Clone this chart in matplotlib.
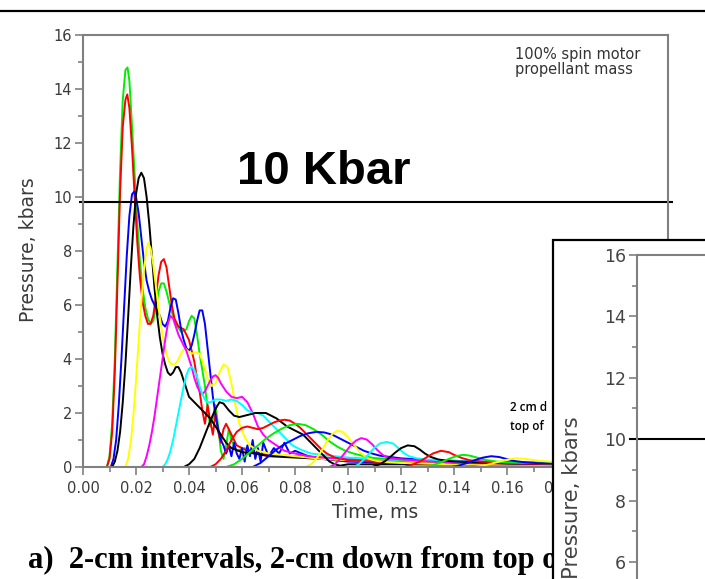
import matplotlib
matplotlib.use("Agg")
import matplotlib.pyplot as plt
from matplotlib.patches import Rectangle
from matplotlib.lines import Line2D
from matplotlib.ticker import MultipleLocator
import matplotlib.transforms as mtransforms

# gauge traces: (time in ms, pressure in kbar)
g01 = [(0, 0), (0.009, 0), (0.010, 0.4), (0.011, 1.6), (0.012, 4.0), (0.013, 7.5), (0.014, 11.0),
       (0.015, 13.6), (0.016, 14.7), (0.0168, 14.8), (0.0175, 14.3), (0.0185, 12.6), (0.0195, 10.8),
       (0.0205, 9.0), (0.0215, 7.6), (0.0225, 6.6), (0.0235, 5.9), (0.0245, 5.5), (0.0255, 5.3),
       (0.0265, 5.4), (0.0275, 5.9), (0.0285, 6.5), (0.0295, 6.8), (0.0305, 6.8), (0.0315, 6.5),
       (0.033, 5.9), (0.035, 5.3), (0.037, 5.0), (0.039, 5.1), (0.040, 5.4), (0.041, 5.6), (0.042, 5.5),
       (0.043, 4.9), (0.044, 4.2), (0.045, 3.6), (0.046, 3.0), (0.047, 2.2), (0.048, 1.5), (0.049, 1.8),
       (0.050, 2.3), (0.051, 1.5), (0.052, 0.6), (0.053, 0.3), (0.054, 0.8), (0.055, 1.4), (0.056, 1.0),
       (0.058, 0.6), (0.061, 0.7), (0.065, 0.5), (0.070, 0.45), (0.080, 0.4), (0.090, 0.35), (0.10, 0.3),
       (0.12, 0.2), (0.15, 0.15), (0.22, 0.1)]
g02 = [(0, 0), (0.009, 0), (0.010, 0.3), (0.011, 1.3), (0.012, 3.5), (0.013, 6.8), (0.014, 10.2),
       (0.015, 12.6), (0.016, 13.6), (0.0167, 13.8), (0.0175, 13.3), (0.0185, 11.8), (0.0195, 10.0),
       (0.0205, 8.3), (0.0215, 7.0), (0.0225, 6.1), (0.0235, 5.6), (0.0245, 5.3), (0.0255, 5.3),
       (0.0265, 5.6), (0.0275, 6.3), (0.0285, 7.1), (0.0295, 7.6), (0.0305, 7.7), (0.0315, 7.4),
       (0.0325, 6.7), (0.0335, 6.0), (0.0345, 5.5), (0.036, 5.2), (0.038, 5.1), (0.040, 4.7), (0.042, 3.9),
       (0.043, 3.3), (0.044, 2.8), (0.045, 2.1), (0.046, 1.6), (0.047, 2.3), (0.048, 1.7), (0.049, 1.2),
       (0.050, 2.0), (0.051, 1.3), (0.052, 0.9), (0.053, 1.4), (0.054, 1.6), (0.056, 1.2), (0.058, 0.8),
       (0.062, 0.6), (0.066, 0.5), (0.07, 0.45), (0.08, 0.4), (0.10, 0.3), (0.13, 0.2), (0.22, 0.1)]
g03 = [(0, 0), (0.0105, 0), (0.0115, 0.3), (0.0125, 1.0), (0.0135, 2.3), (0.0145, 4.0), (0.0155, 5.9),
       (0.0165, 7.8), (0.0175, 9.3), (0.0185, 10.1), (0.0193, 10.2), (0.020, 10.0), (0.021, 9.4),
       (0.022, 8.5), (0.023, 7.6), (0.024, 6.9), (0.025, 6.5), (0.026, 6.2), (0.027, 6.0), (0.028, 5.8),
       (0.029, 5.6), (0.030, 5.3), (0.031, 5.2), (0.032, 5.4), (0.033, 5.9), (0.034, 6.25), (0.035, 6.2),
       (0.036, 5.7), (0.037, 5.1), (0.038, 4.7), (0.039, 4.4), (0.040, 4.3), (0.041, 4.5), (0.042, 4.9),
       (0.043, 5.4), (0.044, 5.8), (0.045, 5.8), (0.046, 5.3), (0.047, 4.4), (0.048, 3.5), (0.049, 2.6),
       (0.050, 1.9), (0.051, 1.4), (0.052, 1.0), (0.053, 0.8), (0.054, 0.5), (0.055, 0.8), (0.056, 0.4),
       (0.057, 0.9), (0.058, 0.5), (0.059, 0.3), (0.060, 0.7), (0.061, 0.2), (0.062, 0.8), (0.063, 0.4),
       (0.064, 1.0), (0.065, 0.3), (0.066, 0.7), (0.067, 0.2), (0.068, 0.9), (0.070, 0.4), (0.072, 0.7),
       (0.074, 0.5), (0.076, 0.9), (0.078, 0.5), (0.080, 0.6), (0.085, 0.4), (0.09, 0.3), (0.10, 0.2),
       (0.12, 0.15), (0.22, 0.1)]
g04 = [(0, 0), (0.011, 0), (0.012, 0.2), (0.013, 0.6), (0.014, 1.3), (0.015, 2.4), (0.016, 3.8),
       (0.017, 5.5), (0.018, 7.3), (0.019, 8.9), (0.020, 10.1), (0.021, 10.7), (0.022, 10.9), (0.023, 10.7),
       (0.024, 10.0), (0.025, 9.0), (0.026, 7.8), (0.027, 6.6), (0.028, 5.6), (0.029, 4.8), (0.030, 4.2),
       (0.031, 3.8), (0.032, 3.5), (0.033, 3.4), (0.034, 3.5), (0.035, 3.7), (0.036, 3.7), (0.037, 3.5),
       (0.038, 3.2), (0.039, 2.9), (0.040, 2.6), (0.042, 2.4), (0.044, 2.2), (0.046, 2.0), (0.048, 1.8),
       (0.050, 1.5), (0.052, 1.2), (0.054, 0.9), (0.056, 0.7), (0.06, 0.55), (0.065, 0.5), (0.07, 0.4),
       (0.08, 0.35), (0.1, 0.25), (0.13, 0.15), (0.22, 0.1)]
g05 = [(0, 0), (0.016, 0), (0.017, 0.3), (0.018, 0.9), (0.019, 1.9), (0.020, 3.2), (0.021, 4.7),
       (0.022, 6.1), (0.023, 7.3), (0.024, 8.1), (0.0247, 8.3), (0.0255, 8.1), (0.0265, 7.5), (0.0275, 6.7),
       (0.0285, 5.9), (0.0295, 5.2), (0.0305, 4.6), (0.0315, 4.2), (0.0325, 3.9), (0.0335, 3.8),
       (0.0345, 3.8), (0.0355, 3.9), (0.0365, 4.1), (0.0375, 4.3), (0.0385, 4.4), (0.0395, 4.3),
       (0.041, 4.2), (0.0425, 4.25), (0.044, 4.2), (0.0455, 3.8), (0.047, 3.3), (0.0485, 3.0), (0.050, 3.1),
       (0.0515, 3.5), (0.053, 3.8), (0.0545, 3.7), (0.056, 3.1), (0.0575, 2.3), (0.059, 1.6), (0.061, 1.1),
       (0.063, 0.8), (0.066, 0.6), (0.07, 0.5), (0.08, 0.4), (0.09, 0.3), (0.1, 0.25), (0.13, 0.15),
       (0.22, 0.1)]
g06 = [(0, 0), (0.022, 0), (0.023, 0.1), (0.024, 0.4), (0.025, 0.8), (0.026, 1.3), (0.027, 1.9),
       (0.028, 2.6), (0.029, 3.3), (0.030, 4.0), (0.031, 4.7), (0.032, 5.3), (0.033, 5.6), (0.034, 5.5),
       (0.035, 5.2), (0.036, 4.9), (0.037, 4.7), (0.038, 4.5), (0.039, 4.3), (0.040, 4.0), (0.041, 3.7),
       (0.042, 3.3), (0.043, 3.0), (0.044, 2.8), (0.045, 2.7), (0.046, 2.8), (0.047, 3.0), (0.048, 3.2),
       (0.049, 3.35), (0.050, 3.4), (0.051, 3.3), (0.052, 3.1), (0.054, 2.8), (0.056, 2.6), (0.058, 2.55),
       (0.060, 2.6), (0.062, 2.4), (0.064, 2.0), (0.066, 1.5), (0.068, 1.2), (0.070, 1.0), (0.073, 0.8),
       (0.076, 0.6), (0.08, 0.5), (0.085, 0.4), (0.09, 0.35), (0.1, 0.3), (0.13, 0.2), (0.22, 0.1)]
g07 = [(0, 0), (0.030, 0), (0.031, 0.1), (0.032, 0.3), (0.033, 0.6), (0.034, 1.0), (0.035, 1.5),
       (0.036, 2.0), (0.037, 2.5), (0.038, 3.0), (0.039, 3.4), (0.040, 3.65), (0.041, 3.7), (0.042, 3.6),
       (0.043, 3.35), (0.044, 3.0), (0.045, 2.7), (0.046, 2.5), (0.047, 2.4), (0.048, 2.4), (0.050, 2.5),
       (0.052, 2.5), (0.054, 2.45), (0.056, 2.5), (0.058, 2.45), (0.060, 2.3), (0.062, 2.1), (0.064, 2.0),
       (0.066, 2.0), (0.068, 1.9), (0.070, 1.7), (0.073, 1.4), (0.076, 1.1), (0.079, 0.8), (0.082, 0.65),
       (0.086, 0.5), (0.09, 0.45), (0.1, 0.35), (0.13, 0.2), (0.22, 0.1)]
g08 = [(0, 0), (0.038, 0), (0.040, 0.1), (0.042, 0.3), (0.044, 0.7), (0.046, 1.2), (0.048, 1.7),
       (0.050, 2.15), (0.0515, 2.4), (0.053, 2.35), (0.055, 2.1), (0.057, 1.9), (0.059, 1.85), (0.061, 1.9),
       (0.063, 1.95), (0.065, 2.0), (0.067, 2.0), (0.069, 2.0), (0.071, 1.9), (0.073, 1.8), (0.075, 1.65),
       (0.077, 1.5), (0.079, 1.4), (0.081, 1.3), (0.083, 1.2), (0.085, 1.0), (0.087, 0.8), (0.089, 0.6),
       (0.091, 0.4), (0.093, 0.2), (0.095, 0.1), (0.097, 0.05), (0.10, 0.1), (0.12, 0.1), (0.22, 0.05)]
g09 = [(0, 0), (0.048, 0), (0.050, 0.1), (0.052, 0.3), (0.054, 0.6), (0.056, 1.0), (0.058, 1.3),
       (0.060, 1.45), (0.062, 1.5), (0.064, 1.45), (0.066, 1.4), (0.068, 1.45), (0.070, 1.55), (0.072, 1.65),
       (0.074, 1.72), (0.076, 1.75), (0.078, 1.72), (0.080, 1.6), (0.082, 1.45), (0.084, 1.25), (0.086, 1.05),
       (0.088, 0.85), (0.090, 0.65), (0.092, 0.5), (0.095, 0.35), (0.10, 0.25), (0.12, 0.15), (0.22, 0.05)]
g10 = [(0, 0), (0.054, 0), (0.057, 0.1), (0.060, 0.3), (0.063, 0.55), (0.066, 0.8), (0.069, 1.05),
       (0.072, 1.25), (0.075, 1.42), (0.078, 1.55), (0.081, 1.6), (0.084, 1.55), (0.087, 1.4), (0.090, 1.2),
       (0.093, 0.95), (0.096, 0.75), (0.099, 0.6), (0.102, 0.5), (0.106, 0.4), (0.11, 0.33), (0.12, 0.27),
       (0.14, 0.2), (0.22, 0.05)]
g11 = [(0, 0), (0.064, 0), (0.067, 0.15), (0.070, 0.4), (0.073, 0.65), (0.076, 0.85), (0.079, 1.0),
       (0.082, 1.15), (0.085, 1.25), (0.088, 1.3), (0.091, 1.28), (0.094, 1.2), (0.097, 1.05), (0.100, 0.9),
       (0.103, 0.75), (0.106, 0.6), (0.109, 0.5), (0.112, 0.42), (0.12, 0.32), (0.13, 0.26), (0.15, 0.2),
       (0.22, 0.05)]
g12 = [(0, 0), (0.084, 0), (0.086, 0.1), (0.088, 0.3), (0.090, 0.6), (0.092, 0.95), (0.094, 1.22),
       (0.096, 1.35), (0.098, 1.3), (0.100, 1.1), (0.102, 0.85), (0.104, 0.6), (0.106, 0.42), (0.108, 0.3),
       (0.111, 0.22), (0.115, 0.18), (0.12, 0.15), (0.14, 0.1), (0.22, 0.05)]
g13 = [(0, 0), (0.093, 0), (0.095, 0.1), (0.097, 0.3), (0.099, 0.55), (0.101, 0.8), (0.103, 0.98),
       (0.105, 1.07), (0.107, 1.02), (0.109, 0.85), (0.111, 0.63), (0.113, 0.45), (0.115, 0.35),
       (0.118, 0.3), (0.122, 0.27), (0.13, 0.22), (0.14, 0.15), (0.22, 0.05)]
g14 = [(0, 0), (0.102, 0), (0.104, 0.1), (0.106, 0.28), (0.108, 0.5), (0.110, 0.72), (0.112, 0.87),
       (0.1145, 0.93), (0.117, 0.87), (0.119, 0.7), (0.121, 0.52), (0.123, 0.4), (0.126, 0.32),
       (0.13, 0.28), (0.14, 0.22), (0.16, 0.15), (0.22, 0.05)]
g15 = [(0, 0), (0.109, 0), (0.112, 0.1), (0.114, 0.22), (0.116, 0.38), (0.118, 0.55), (0.120, 0.7),
       (0.1225, 0.8), (0.125, 0.77), (0.127, 0.65), (0.129, 0.5), (0.131, 0.38), (0.134, 0.28),
       (0.138, 0.22), (0.145, 0.18), (0.16, 0.13), (0.18, 0.1), (0.22, 0.05)]
g16 = [(0, 0), (0.121, 0), (0.124, 0.08), (0.127, 0.2), (0.130, 0.38), (0.132, 0.5), (0.135, 0.6),
       (0.138, 0.55), (0.140, 0.45), (0.143, 0.33), (0.146, 0.25), (0.15, 0.2), (0.16, 0.15),
       (0.18, 0.1), (0.22, 0.05)]
g17 = [(0, 0), (0.129, 0), (0.132, 0.07), (0.135, 0.17), (0.138, 0.3), (0.141, 0.41), (0.1435, 0.45),
       (0.146, 0.42), (0.149, 0.34), (0.152, 0.26), (0.156, 0.2), (0.16, 0.17), (0.17, 0.15),
       (0.19, 0.1), (0.22, 0.05)]
g18 = [(0, 0), (0.139, 0), (0.142, 0.06), (0.145, 0.15), (0.148, 0.26), (0.151, 0.35), (0.154, 0.4),
       (0.157, 0.37), (0.160, 0.29), (0.163, 0.22), (0.167, 0.17), (0.172, 0.14), (0.18, 0.12),
       (0.22, 0.05)]
g19 = [(0, 0), (0.148, 0), (0.151, 0.05), (0.154, 0.12), (0.157, 0.2), (0.160, 0.27), (0.163, 0.32),
       (0.166, 0.31), (0.169, 0.27), (0.172, 0.23), (0.176, 0.2), (0.18, 0.18), (0.19, 0.15),
       (0.22, 0.08)]

gauges = [g01, g02, g03, g04, g05, g06, g07, g08, g09, g10,
          g11, g12, g13, g14, g15, g16, g17, g18, g19]
colours = ["#00ee00", "#ff0000", "#0000ff", "#000000", "#ffff00", "#ff00ff", "#00ffff",
           "#000000", "#ff0000", "#00ee00", "#0000ff", "#ffff00", "#ff00ff", "#00ffff",
           "#000000", "#ff0000", "#00ee00", "#0000ff", "#ffff00"]

W, H = 705, 579
fig = plt.figure(figsize=(W / 100, H / 100), dpi=100)

# main chart
ax = fig.add_axes([83 / W, 1 - 467 / H, (668 - 83) / W, (467 - 35) / H])
for g, c in zip(gauges, colours):
    t, p = zip(*g)
    ax.plot(t, p, color=c, lw=1.4, solid_joinstyle="round")

ax.set_xlim(0, 0.2207)
ax.set_ylim(0, 16)
ax.xaxis.set_major_locator(MultipleLocator(0.02))
ax.xaxis.set_minor_locator(MultipleLocator(0.01))
ax.yaxis.set_major_locator(MultipleLocator(2))
ax.yaxis.set_minor_locator(MultipleLocator(1))
ax.xaxis.set_major_formatter(lambda v, pos: f"{v:.2f}")
ax.tick_params(which="both", direction="out", color="#808080", width=1.2,
               labelcolor="#3a3a3a", labelsize=10.5)
ax.tick_params(axis="x", pad=4)
ax.tick_params(axis="y", pad=2)
ax.tick_params(which="major", length=6)
ax.tick_params(which="minor", length=3.5)
for s in ax.spines.values():
    s.set_color("#808080")
    s.set_linewidth(1.5)

ax.axhline(9.8, xmin=-0.005, xmax=1.007, color="black", lw=1.5, clip_on=False)
ax.text(0.058, 10.5, "10 Kbar", fontfamily="Liberation Sans", fontweight="bold",
        fontsize=34, va="baseline", ha="left")
ax.text(0.163, 15.55, "100% spin motor\npropellant mass", fontsize=10.5,
        color="#333333", va="top", ha="left", linespacing=0.95)
ax.text(0.1612, 2.07, "2 cm d", fontfamily="Open Sans", fontweight="semibold",
        fontsize=8.5, va="baseline", ha="left")
ax.text(0.1612, 1.37, "top of", fontfamily="Open Sans", fontweight="semibold",
        fontsize=8.5, va="baseline", ha="left")
ax.set_xlabel("Time, ms", fontsize=13.5, color="#3a3a3a", labelpad=5)
fig.text(28 / W, 1 - 250 / H, "Pressure, kbars", rotation=90, fontsize=13.5,
         color="#3a3a3a", ha="center", va="center")

fig.text(28 / W, 1 - 568 / H, "a)  2-cm intervals, 2-cm down from top of",
         fontfamily="Liberation Serif", fontweight="bold", fontsize=22,
         ha="left", va="baseline")

# top rule of the page
fig.add_artist(Line2D([0, 1], [1 - 11 / H] * 2, color="black", lw=1.6))

# overlapping second chart box
box = Rectangle((553 / W, -0.1), 1.0, 0.1 + 1 - 240 / H, transform=fig.transFigure,
                facecolor="white", edgecolor="black", lw=1.6, zorder=5)
fig.add_artist(box)

ax2 = fig.add_axes([637 / W, 1 - 746 / H, 1.0, (746 - 255) / H], zorder=6)
ax2.patch.set_visible(False)
ax2.set_ylim(0, 16)
ax2.set_xlim(0, 1)
ax2.set_xticks([])
ax2.yaxis.set_major_locator(MultipleLocator(2))
ax2.yaxis.set_minor_locator(MultipleLocator(1))
ax2.tick_params(which="both", direction="out", color="#808080", width=1.2,
                labelcolor="#444444", labelsize=12.5, pad=2)
ax2.tick_params(which="major", length=6)
ax2.tick_params(which="minor", length=3.5)
for s in ax2.spines.values():
    s.set_color("#808080")
    s.set_linewidth(1.5)
trans = mtransforms.blended_transform_factory(ax2.transAxes, ax2.transData)
ax2.plot([-0.01, 1], [10, 10], color="black", lw=1.5, transform=trans, clip_on=False)
fig.text(572 / W, 1 - 498 / H, "Pressure, kbars", rotation=90, fontsize=15.3,
         color="#444444", ha="center", va="center", zorder=7)

fig.savefig("out.png", dpi=100)
